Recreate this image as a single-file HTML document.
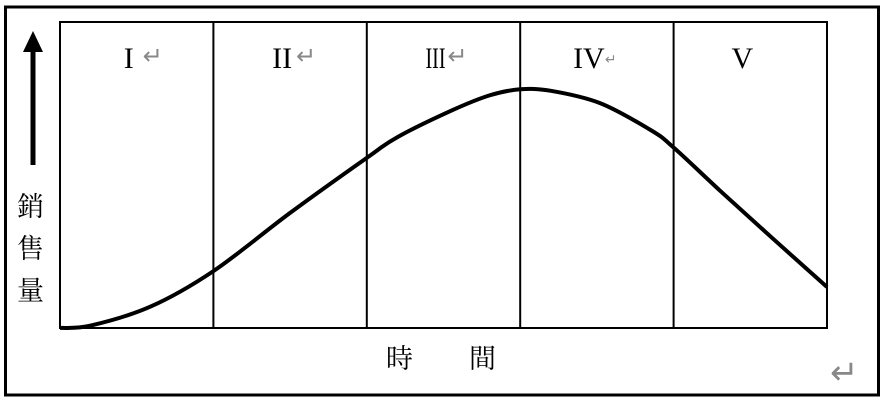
<!DOCTYPE html>
<html><head><meta charset="utf-8"><style>
body{margin:0;background:#fff;}
svg text{font-family:"Liberation Serif","Noto Serif CJK SC",serif;}
</style></head><body>
<svg width="884" height="400" viewBox="0 0 884 400">
<rect x="5.5" y="7" width="873" height="388" fill="none" stroke="#000" stroke-width="3"/>
<g id="plot"></g>
<g>
<line x1="33" y1="50" x2="33" y2="165" stroke="#000" stroke-width="5"/>
<polygon points="33,31 23,52 43,52" fill="#000"/>
</g>
<g fill="#000">
<text x="17" y="216" font-size="27" style="font-family:'Noto Serif CJK SC',serif">銷</text>
<text x="17" y="258" font-size="27" style="font-family:'Noto Serif CJK SC',serif">售</text>
<text x="17" y="300" font-size="27" style="font-family:'Noto Serif CJK SC',serif">量</text>
</g>
<g>
<text x="386" y="368" font-size="27" style="font-family:'Noto Serif CJK SC',serif">時</text>
<text x="469" y="368" font-size="27" style="font-family:'Noto Serif CJK SC',serif">間</text>
</g>
<text x="830" y="384" font-size="34" fill="#888" style="font-family:'DejaVu Sans',sans-serif">↵</text>
</svg>
<script>
const stages=["I","II","III","IV","V"];
const timeVals=[0,0.2,0.59,1.0,1.5,2.0,2.2,2.55,2.8,3.0,3.2,3.52,3.85,4.0,4.3,4.63,5.0];
const salesVals=[0,0.8,7,18.6,37.6,55.6,62.4,71,76,78,77.5,73.5,64.7,59,45,30,13.4];
const NS="http://www.w3.org/2000/svg";
const x0=60,x1=827,y0=328,y1=22;
const xs=t=>x0+t*(x1-x0)/stages.length;
const ys=v=>y0-v*(y0-y1)/100;
const g=document.getElementById('plot');
const box=document.createElementNS(NS,'rect');


box.setAttribute('x',x0);box.setAttribute('y',y1);box.setAttribute('width',x1-x0);box.setAttribute('height',y0-y1);
box.setAttribute('fill','none');box.setAttribute('stroke','#000');box.setAttribute('stroke-width','2');
g.appendChild(box);
stages.forEach((s,i)=>{
 if(i>0){const l=document.createElementNS(NS,'line');
 
 
 l.setAttribute('x1',xs(i));l.setAttribute('x2',xs(i));l.setAttribute('y1',y1);l.setAttribute('y2',y0);
 l.setAttribute('stroke','#000');l.setAttribute('stroke-width','2');g.appendChild(l);}
 const t=document.createElementNS(NS,'text');
 
 
 t.setAttribute('x',xs(i+0.5)-8);t.setAttribute('y',68);t.setAttribute('font-size','30');t.setAttribute('text-anchor','middle');
 if(s.length>2){t.setAttribute('textLength','20');t.setAttribute('lengthAdjust','spacingAndGlyphs');}
 t.textContent=s;g.appendChild(t);
 const r=document.createElementNS(NS,'text');
 
 
 r.setAttribute('x',xs(i+0.5)+(i==2?4:i==3?8:6));r.setAttribute('y',64);r.setAttribute('font-size',i<3?'24':'14');r.setAttribute('fill','#888');
 r.setAttribute('style',"font-family:'DejaVu Sans',sans-serif");
 r.textContent=i<4?'↵':'';g.appendChild(r);
});
const P=timeVals.map((t,i)=>[xs(t),ys(salesVals[i])]);
let d='M'+P[0][0].toFixed(1)+','+P[0][1].toFixed(1);
for(let i=0;i<P.length-1;i++){
 const p0=P[Math.max(0,i-1)],p1=P[i],p2=P[i+1],p3=P[Math.min(P.length-1,i+2)];
 const c1=[p1[0]+(p2[0]-p0[0])/6,p1[1]+(p2[1]-p0[1])/6];
 const c2=[p2[0]-(p3[0]-p1[0])/6,p2[1]-(p3[1]-p1[1])/6];
 d+=' C'+c1.map(v=>v.toFixed(1)).join(',')+' '+c2.map(v=>v.toFixed(1)).join(',')+' '+p2.map(v=>v.toFixed(1)).join(',');
}
const p=document.createElementNS(NS,'path');


p.setAttribute('d',d);p.setAttribute('fill','none');p.setAttribute('stroke','#000');p.setAttribute('stroke-width','4');p.setAttribute('stroke-linejoin','round');
g.appendChild(p);
</script>
</body></html>
